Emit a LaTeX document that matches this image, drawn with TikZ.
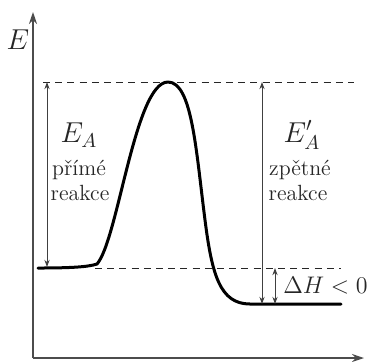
\documentclass[tikz,border=0pt]{standalone}
\usetikzlibrary{arrows.meta}
\begin{document}
\begin{tikzpicture}
% energy profile of an exothermic reaction
\def\pxsz{0.5pt}
\providecommand{\enAxisWidth}{0.6pt}
\providecommand{\enCurveWidth}{1.5pt}
\providecommand{\enThinWidth}{0.45pt}
\providecommand{\enLevelColor}{black!85}
\begin{scope}[x=\pxsz, y=-\pxsz, line cap=butt, line join=round,
  axisline/.style={draw=black!70, line width=\enAxisWidth, -{Stealth[length=6pt,width=4pt]}},
  levelline/.style={draw=\enLevelColor, line width=\enThinWidth, dash pattern=on 3.5pt off 2.6pt},
  gapline/.style={draw=black!75, line width=\enThinWidth, {Stealth[length=3.6pt,width=2.6pt]}-{Stealth[length=3.6pt,width=2.6pt]}},
  lbl/.style={inner sep=0pt, text=black!85, font=\fontsize{11}{13}\selectfont}]
  % Bounding box
  \useasboundingbox (0,0) rectangle (368,361);
  % Key points
  \coordinate (origin) at (33,358);
  \coordinate (ytip) at (33,12);
  \coordinate (xtip) at (364,358);
  \coordinate (start) at (38,268);
  \coordinate (bend) at (97,264);
  \coordinate (peak) at (168,82);
  \coordinate (fall) at (205,220);
  \coordinate (prod) at (250,304);
  \coordinate (stop) at (341,304);
  % Axes
  \draw[axisline] (origin) -- (ytip);
  \draw[axisline] (origin) -- (xtip);
  \node[lbl, font=\Large] (elabel) at (18,40) {$E$};
  % Dashed levels
  \coordinate (topl) at (43,82);
  \coordinate (topr) at (354,82);
  \coordinate (reacl) at (95,268);
  \coordinate (reacr) at (341,268);
  \draw[levelline] (topl) -- (topr);
  \draw[levelline] (reacl) -- (reacr);
  % Reaction curve
  \draw[line width=\enCurveWidth, line cap=round] (start)
    .. controls (70,268) and (88,267) .. (bend)
    .. controls (118,240) and (135,82) .. (peak)
    .. controls (192,82) and (196,150) .. (fall)
    .. controls (212,275) and (220,304) .. (prod)
    -- (stop);
  % Activation energy, forward
  \coordinate (eatop) at (47,82);
  \coordinate (eabot) at (47,267);
  \draw[gapline] (eatop) -- (eabot);
  \node[lbl, font=\Large] (ea) at (79,135) {$E_A$};
  \node[lbl, anchor=base] (eaone) at (79,175) {přímé};
  \node[lbl, anchor=base] (eatwo) at (80,200) {reakce};
  % Activation energy, backward
  \coordinate (ebtop) at (262,82);
  \coordinate (ebbot) at (262,304);
  \draw[gapline] (ebtop) -- (ebbot);
  \node[lbl, font=\Large] (eb) at (302,135) {$E'_A$};
  \node[lbl, anchor=base] (ebone) at (300,175) {zpětné};
  \node[lbl, anchor=base] (ebtwo) at (298,200) {reakce};
  % Reaction enthalpy
  \coordinate (dhtop) at (275,268);
  \coordinate (dhbot) at (275,304);
  \draw[gapline] (dhtop) -- (dhbot);
  \node[lbl, anchor=base west, font=\fontsize{13}{15}\selectfont] (dh) at (283,293) {$\Delta H < 0$};
\end{scope}
\end{tikzpicture}
\end{document}
